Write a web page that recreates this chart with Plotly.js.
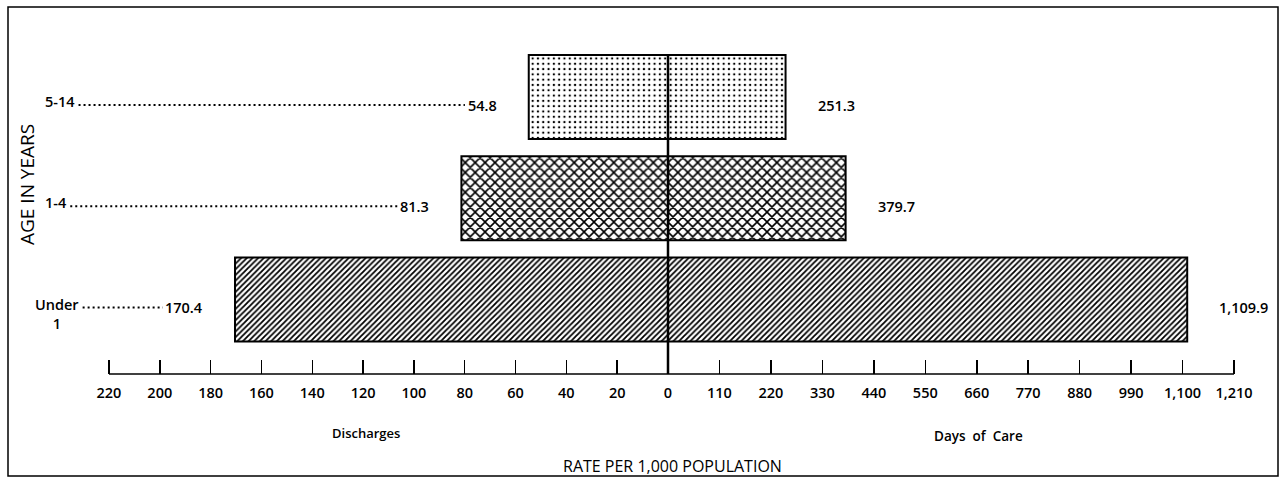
<!DOCTYPE html>
<html>
<head>
<meta charset="utf-8">
<script src="https://cdn.plot.ly/plotly-3.0.1.min.js"></script>
<style>
  html, body { margin: 0; padding: 0; background: #fff; }
  #chart { width: 1282px; height: 478px; }
</style>
</head>
<body>
<div id="chart"></div>
<script>
// ---------------- data ----------------
const ageGroups = ['Under 1', '1-4', '5-14'];
const ageLabels = ['Under<br>1', '1-4', '5-14'];
const discharges = [170.4, 81.3, 54.8];
const daysOfCare = [1109.9, 379.7, 251.3];
const dischargeTicks = [220, 200, 180, 160, 140, 120, 100, 80, 60, 40, 20, 0];
const daysTicks = [110, 220, 330, 440, 550, 660, 770, 880, 990, 1100, 1210];

// ---------------- styles / geometry ----------------
const patternShapes = ['/', 'x', '.'];
const patternSizes = [4, 7, 5.3];
const patternSolidity = [0.45, 0.4, 0.15];

const W = 1282, H = 478;
const ZERO_PX = 668;          // pixel position of the shared zero
const LEFT_PER = 2.541;       // px per discharge unit
const RIGHT_PER = 0.4678;     // px per day-of-care unit
const PLOT_TOP = 24, PLOT_BOTTOM = 374;
const ROW_PX = 101.25, ROW0_PX = 299.5;
const yMin = -(PLOT_BOTTOM - ROW0_PX) / ROW_PX;
const yMax = yMin + (PLOT_BOTTOM - PLOT_TOP) / ROW_PX;
const BAR_W = 84 / ROW_PX;
const GAP = 30;
const FONT = '"Open Sans", sans-serif';
const WEIGHT = 600;
const LABEL_SIZE = 14.5;
const ageStartPx = [33, 43, 43];

const ctx = document.createElement('canvas').getContext('2d');
function textW(s, size) { ctx.font = WEIGHT + ' ' + size + 'px "Open Sans"'; return ctx.measureText(s).width; }
const px2paperX = px => px / W;
const px2paperY = py => (PLOT_BOTTOM - py) / (PLOT_BOTTOM - PLOT_TOP);
const f = size => ({family: FONT, size: size, color: '#000', weight: WEIGHT});

const fmt1 = v => v.toLocaleString('en-US', {minimumFractionDigits: 1, maximumFractionDigits: 1});
const leftText = discharges.map(fmt1);
const rightText = daysOfCare.map(fmt1);

const pattern = {
  shape: patternShapes, size: patternSizes, solidity: patternSolidity,
  fgcolor: '#000', bgcolor: '#fff', fillmode: 'replace', fgopacity: 1
};

const traces = [
  {
    type: 'bar', orientation: 'h', x: discharges, y: ageGroups,
    xaxis: 'x', yaxis: 'y', width: BAR_W,
    marker: {color: '#fff', line: {color: '#000', width: 2}, pattern: pattern},
    hoverinfo: 'skip'
  },
  {
    type: 'bar', orientation: 'h', x: daysOfCare, y: ageGroups,
    xaxis: 'x2', yaxis: 'y', width: BAR_W,
    marker: {color: '#fff', line: {color: '#000', width: 2}, pattern: pattern},
    hoverinfo: 'skip'
  }
];

const commonX = {
  showgrid: false, zeroline: false, showline: false,
  ticks: 'inside', ticklen: 14, tickwidth: 1.5, tickcolor: '#000',
  tickmode: 'array', tickfont: f(14.5), anchor: 'y', fixedrange: true,
  ticklabelstandoff: 8
};

const shapes = [];
const annotations = [];

// frame
shapes.push({type: 'rect', xref: 'paper', yref: 'paper',
  x0: px2paperX(8), x1: px2paperX(1278), y0: px2paperY(476), y1: px2paperY(7),
  line: {color: '#000', width: 1.5}, fillcolor: 'rgba(0,0,0,0)'});

// axis baseline
shapes.push({type: 'line', xref: 'x', yref: 'paper', x0: dischargeTicks[0], x1: 0, y0: 0, y1: 0,
  line: {color: '#000', width: 1.5}});
shapes.push({type: 'line', xref: 'x2', yref: 'paper', x0: 0, x1: daysTicks[daysTicks.length - 1], y0: 0, y1: 0,
  line: {color: '#000', width: 1.5}});

// center line
shapes.push({type: 'line', xref: 'paper', yref: 'y', x0: px2paperX(ZERO_PX), x1: px2paperX(ZERO_PX),
  y0: yMin, y1: (ageGroups.length - 1) + BAR_W / 2, line: {color: '#000', width: 2.5}});

ageGroups.forEach((g, i) => {
  const firstLine = ageLabels[i].split('<br>')[0];
  const multi = ageLabels[i].indexOf('<br>') >= 0;
  annotations.push({
    xref: 'paper', yref: 'y', x: px2paperX(ageStartPx[i]), y: g,
    xanchor: 'left', yanchor: 'middle', yshift: multi ? -14 : -4,
    text: ageLabels[i], showarrow: false, align: 'center', font: f(LABEL_SIZE)
  });
  const startPx = ageStartPx[i] + textW(firstLine, LABEL_SIZE) + 6;
  const valW = textW(leftText[i], LABEL_SIZE);
  shapes.push({
    type: 'line', xref: 'x', yref: 'y', ysizemode: 'pixel', yanchor: i,
    y0: -8, y1: -8,
    x0: (ZERO_PX - startPx) / LEFT_PER,
    x1: discharges[i] + (GAP + valW + 5) / LEFT_PER,
    line: {color: '#000', width: 2, dash: '2px,3px'}
  });
  annotations.push({
    xref: 'x', yref: 'y', x: discharges[i], y: g, xanchor: 'right', xshift: -GAP, yshift: -8,
    text: leftText[i], showarrow: false, font: f(LABEL_SIZE)
  });
  annotations.push({
    xref: 'x2', yref: 'y', x: daysOfCare[i], y: g, xanchor: 'left', xshift: GAP, yshift: -8,
    text: rightText[i], showarrow: false, font: f(LABEL_SIZE)
  });
});

// titles
annotations.push({xref: 'paper', yref: 'paper', x: px2paperX(27), y: px2paperY(185),
  xanchor: 'center', yanchor: 'middle',
  text: 'AGE IN YEARS', textangle: -90, showarrow: false, font: Object.assign(f(19), {weight: 400})});
annotations.push({xref: 'paper', yref: 'paper', x: px2paperX(366), y: px2paperY(433),
  xanchor: 'center', yanchor: 'middle', text: 'Discharges', showarrow: false, font: f(13)});
annotations.push({xref: 'paper', yref: 'paper', x: px2paperX(978), y: px2paperY(436),
  xanchor: 'center', yanchor: 'middle', text: 'Days&nbsp; of&nbsp; Care', showarrow: false, font: f(13.5)});
annotations.push({xref: 'paper', yref: 'paper', x: px2paperX(672), y: px2paperY(466),
  xanchor: 'center', yanchor: 'middle', text: 'RATE PER 1,000 POPULATION', showarrow: false,
  font: Object.assign(f(16), {weight: 400})});

const layout = {
  width: W, height: H,
  margin: {l: 0, r: 0, t: PLOT_TOP, b: H - PLOT_BOTTOM, pad: 0},
  paper_bgcolor: '#fff', plot_bgcolor: '#fff',
  showlegend: false, barmode: 'overlay',
  font: {family: FONT, size: 15, color: '#000'},
  xaxis: Object.assign({}, commonX, {
    domain: [0, ZERO_PX / W], range: [ZERO_PX / LEFT_PER, 0],
    tickvals: dischargeTicks, ticktext: dischargeTicks.map(String)
  }),
  xaxis2: Object.assign({}, commonX, {
    domain: [ZERO_PX / W, 1], range: [0, (W - ZERO_PX) / RIGHT_PER],
    tickvals: daysTicks, ticktext: daysTicks.map(v => v.toLocaleString('en-US'))
  }),
  yaxis: {
    type: 'category', categoryorder: 'array', categoryarray: ageGroups,
    range: [yMin, yMax], showticklabels: false, showgrid: false, zeroline: false,
    showline: false, ticks: '', fixedrange: true
  },
  shapes: shapes,
  annotations: annotations
};

Plotly.newPlot('chart', traces, layout, {staticPlot: true, displayModeBar: false});
</script>
</body>
</html>
